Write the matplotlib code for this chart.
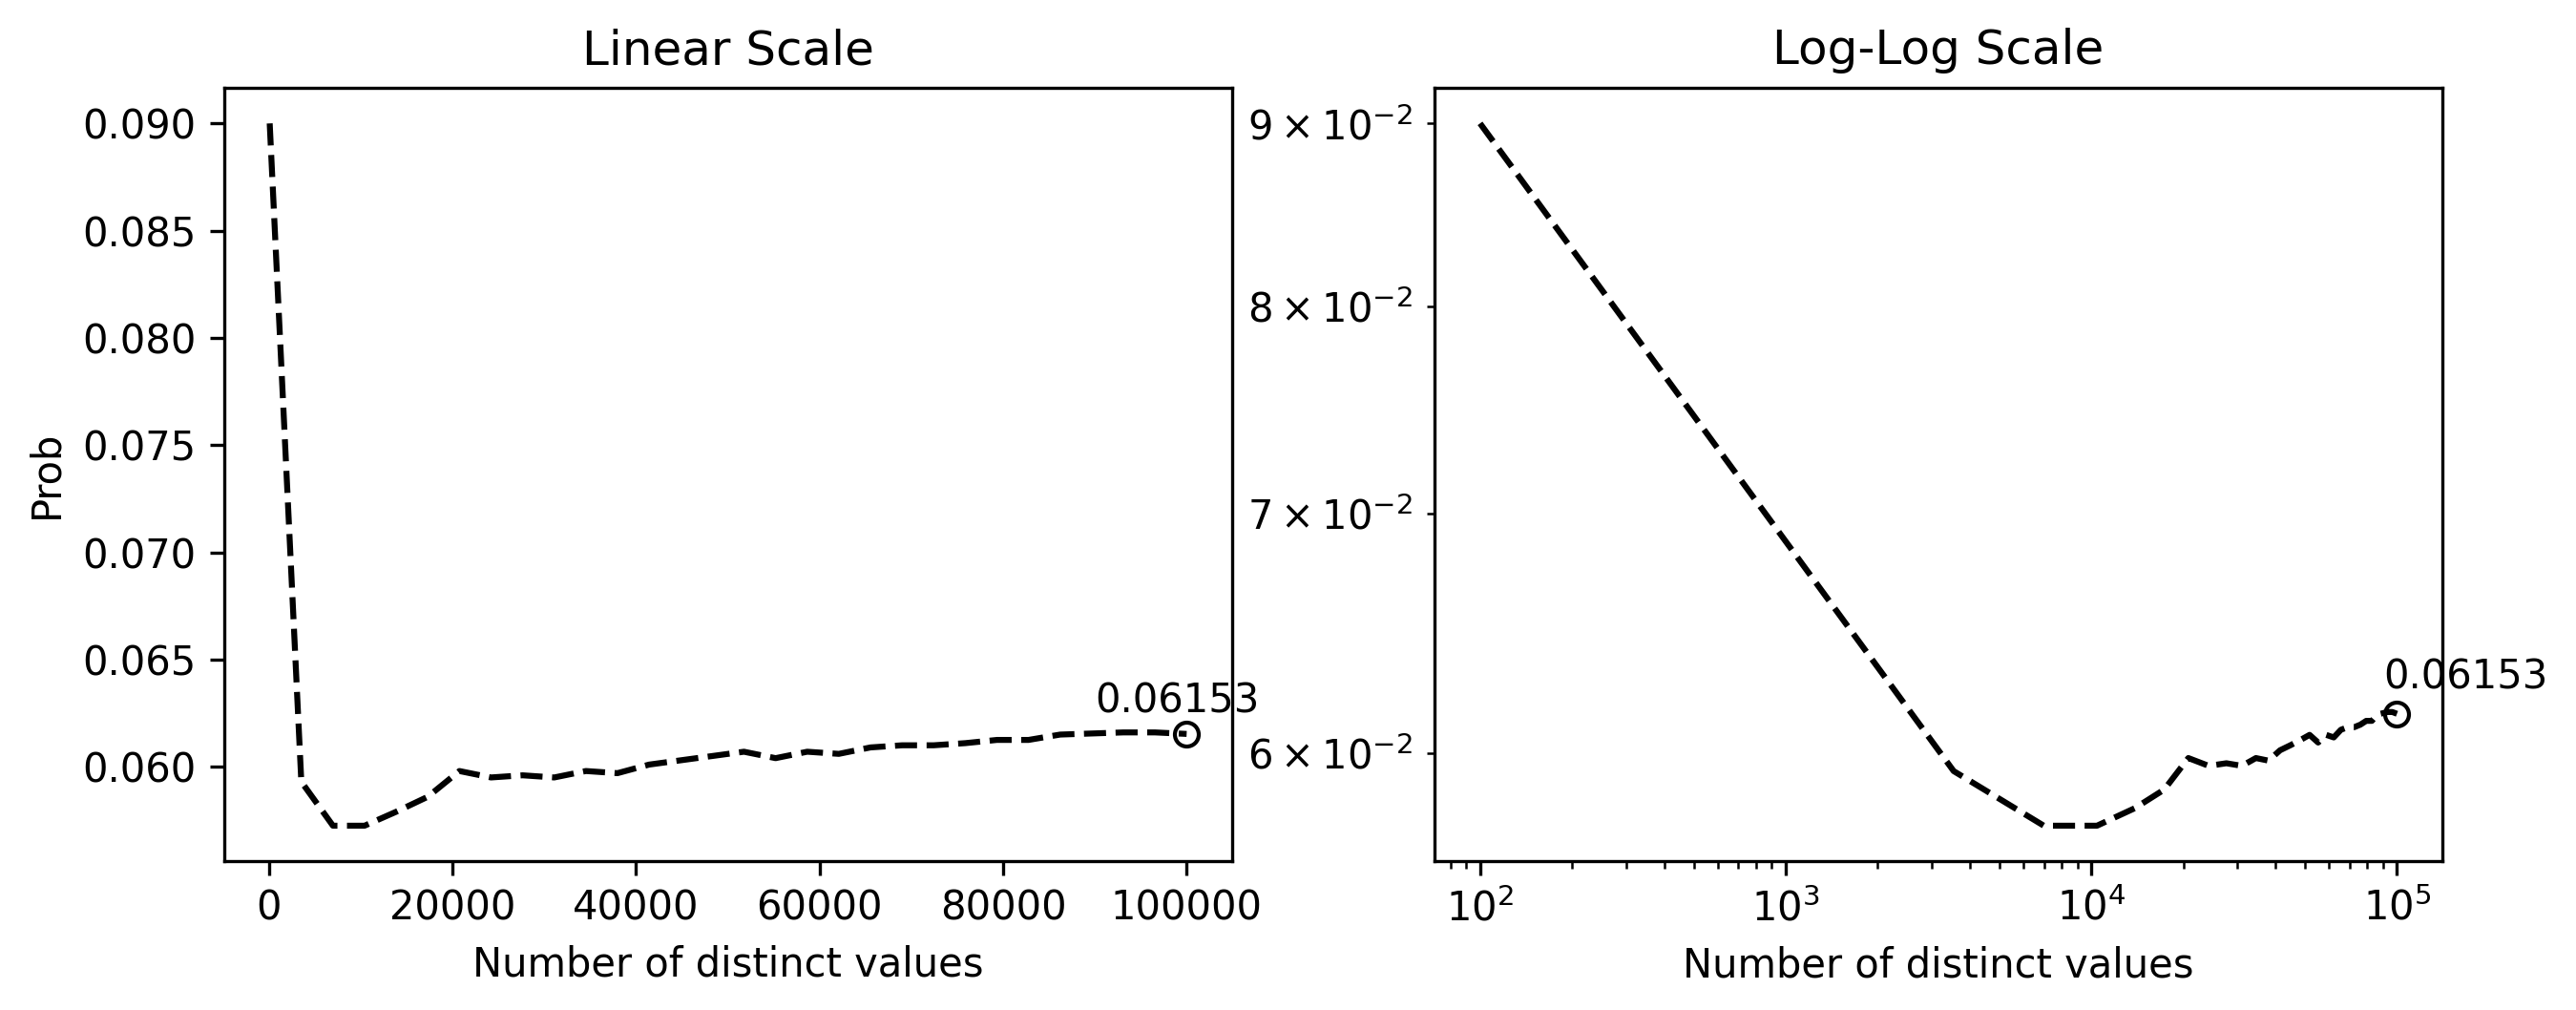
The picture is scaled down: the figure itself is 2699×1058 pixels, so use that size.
import matplotlib
matplotlib.use('Agg')
import matplotlib.pyplot as plt

# 数据：不同取值个数下的概率
n_values = [100, 3545, 6990, 10434, 13879, 17324, 20769, 24214, 27659, 31103,
            34548, 37993, 41438, 44883, 48328, 51772, 55217, 58662, 62107, 65552,
            68997, 72441, 75886, 79331, 82776, 86221, 89666, 93110, 96555, 100000]
probs = [0.0900, 0.0593, 0.05725, 0.05725, 0.0579, 0.0586, 0.0598, 0.0595, 0.0596, 0.0595,
         0.0598, 0.0597, 0.0601, 0.0603, 0.0605, 0.0607, 0.0604, 0.0607, 0.0606, 0.0609,
         0.0610, 0.0610, 0.0611, 0.06125, 0.06125, 0.0615, 0.06155, 0.0616, 0.0616, 0.06153]

titles = ['Linear Scale', 'Log-Log Scale']

fig, (ax1, ax2) = plt.subplots(1, 2, figsize=(2699 / 300, 1058 / 300), dpi=300)
fig.subplots_adjust(left=0.0869, right=0.9483, bottom=0.1477, top=0.9126, wspace=0.2)

last_x, last_y = n_values[-1], probs[-1]

for ax, title in zip((ax1, ax2), titles):
    ax.plot(n_values, probs, 'k--')
    ax.plot(last_x, last_y, 'o', mfc='none', mec='k')
    ax.text(last_x * 0.9, last_y + 0.001, f'{last_y:.5f}')
    ax.set_title(title)
    ax.set_xlabel('Number of distinct values')

ax1.set_ylabel('Prob')

ax2.set_xscale('log')
ax2.set_yscale('log')

fig.savefig('out.png', dpi=300)
